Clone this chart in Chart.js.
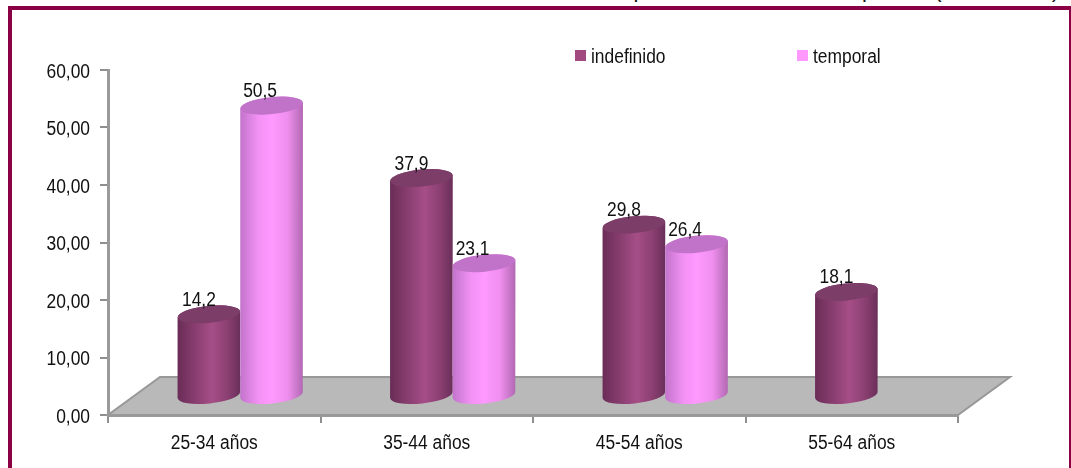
<!DOCTYPE html>
<html>
<head>
<meta charset="utf-8">
<style>
html, body { margin: 0; padding: 0; background: #fff; overflow: hidden; }
#wrap { position: relative; width: 1071px; height: 468px; overflow: hidden; }
#frame { position: absolute; left: 8px; top: 6px; right: 0; height: 470px; border: solid #8b0045; border-width: 4px 2px 0 4px; }
#note { position: absolute; right: 12px; top: -23px; font: 22px "Liberation Sans", sans-serif; white-space: nowrap; color: #111; }
canvas { position: absolute; left: 0; top: 0; }
</style>
</head>
<body>
<div id="wrap">
  <div id="note">personal asalariado empleado (25-64 años)</div>
  <div id="frame"></div>
  <canvas id="chart" width="1071" height="468"></canvas>
</div>
<script src="https://cdn.jsdelivr.net/npm/chart.js@4"></script>
<script>
const categories = ['25-34 años', '35-44 años', '45-54 años', '55-64 años'];
const indefinido = [14.2, 37.9, 29.8, 18.1];
const temporal = [50.5, 23.1, 26.4, null];
const yTicks = [0, 10, 20, 30, 40, 50, 60];

const FONT = '"Liberation Sans", sans-serif';
const FONT_SIZE = 20;
const SQUEEZE = 0.87;
const DEPTH_X = 26;
const DEPTH_Y = -19;
const RY = 8.5;
const TILT = -0.1;

const styles = [
    { stops: [[0, '#6a2c57'], [0.3, '#8a3f71'], [0.55, '#a64e87'], [0.8, '#8a3f71'], [1, '#6a2f5a']], top: '#7c3d68', key: '#a04a80', labelShift: -10 },
    { stops: [[0, '#c274cb'], [0.3, '#f492f6'], [0.5, '#ff99ff'], [0.75, '#f08ff0'], [1, '#b268b2']], top: '#c172c9', key: '#ff99ff', labelShift: -11.5 },
];

function drawCylinder(ctx, bar, style) {
    const x = bar.x + DEPTH_X;
    const yTop = bar.y + DEPTH_Y;
    const yBase = bar.base + DEPTH_Y;
    const half = bar.width / 2;
    const dy = half * Math.sin(TILT);
    const grad = ctx.createLinearGradient(x - half, 0, x + half, 0);
    style.stops.forEach(([at, colour]) => grad.addColorStop(at, colour));

    ctx.beginPath();
    ctx.moveTo(x - half, yTop - dy);
    ctx.lineTo(x - half, yBase - dy);
    ctx.ellipse(x, yBase, half, RY, TILT, Math.PI, 0, true);
    ctx.lineTo(x + half, yTop + dy);
    ctx.ellipse(x, yTop, half, RY, TILT, 0, Math.PI, true);
    ctx.closePath();
    ctx.fillStyle = grad;
    ctx.fill();

    ctx.beginPath();
    ctx.ellipse(x, yTop, half, RY, TILT, 0, Math.PI * 2);
    ctx.fillStyle = style.top;
    ctx.fill();
}

const cylinders = {
    id: 'cylinders',
    beforeDatasetsDraw(chart) {
        const { ctx, chartArea: a } = chart;
        const bx = 52;
        const by = -38;
        ctx.save();
        ctx.beginPath();
        ctx.moveTo(a.left, a.bottom);
        ctx.lineTo(a.right, a.bottom);
        ctx.lineTo(a.right + bx, a.bottom + by);
        ctx.lineTo(a.left + bx, a.bottom + by);
        ctx.closePath();
        ctx.fillStyle = '#b9b9b9';
        ctx.fill();
        ctx.strokeStyle = '#989898';
        ctx.lineWidth = 2;
        ctx.stroke();
        ctx.restore();
    },
    afterDatasetsDraw(chart) {
        const { ctx } = chart;
        ctx.save();
        // cylinders are drawn category by category, left bar first
        categories.forEach((_, i) => {
            chart.data.datasets.forEach((ds, d) => {
                if (ds.data[i] == null) return;
                drawCylinder(ctx, chart.getDatasetMeta(d).data[i], styles[d]);
            });
        });
        ctx.font = FONT_SIZE + 'px ' + FONT;
        ctx.fillStyle = '#111';
        ctx.textAlign = 'center';
        ctx.textBaseline = 'middle';
        chart.data.datasets.forEach((ds, d) => {
            chart.getDatasetMeta(d).data.forEach((bar, i) => {
                if (ds.data[i] == null) return;
                ctx.fillText(ds.data[i].toFixed(1).replace('.', ','), bar.x + DEPTH_X + styles[d].labelShift, bar.y + DEPTH_Y - 16);
            });
        });
        // legend
        const keyX = [575, 797];
        chart.data.datasets.forEach((ds, d) => {
            ctx.fillStyle = styles[d].key;
            ctx.fillRect(keyX[d], 50, 11, 11);
            ctx.fillStyle = '#111';
            ctx.textAlign = 'left';
            ctx.fillText(ds.label, keyX[d] + 16, 55);
        });
        ctx.restore();
    },
};

const canvas = document.getElementById('chart');
const context = canvas.getContext('2d');

// the original uses a narrow face, none is installed, so squeeze the text
const plainFillText = context.fillText;
context.fillText = function (text, x, y) {
    this.save();
    this.translate(x, y + 2);
    this.scale(SQUEEZE, 1);
    plainFillText.call(this, text, 0, 0);
    this.restore();
};

new Chart(context, {
    type: 'bar',
    data: {
        labels: categories,
        datasets: [
            { label: 'indefinido', data: indefinido, backgroundColor: 'transparent' },
            { label: 'temporal', data: temporal, backgroundColor: 'transparent' },
        ],
    },
    options: {
        responsive: false,
        animation: false,
        devicePixelRatio: 1,
        layout: { padding: { top: 70, right: 113, left: 0, bottom: 0 } },
        categoryPercentage: 0.59,
        barPercentage: 1,
        plugins: { legend: { display: false }, tooltip: { enabled: false } },
        scales: {
            x: {
                grid: { drawOnChartArea: false, color: '#8f8f8f', tickLength: 8, lineWidth: 2 },
                border: { color: '#9a9a9a', width: 3 },
                ticks: { color: '#111', font: { family: FONT, size: FONT_SIZE }, padding: 6, maxRotation: 0 },
                afterFit(scale) { scale.height = 53; },
            },
            y: {
                min: 0,
                max: 60,
                afterBuildTicks(scale) { scale.ticks = yTicks.map((value) => ({ value })); },
                grid: { drawOnChartArea: false, color: '#8f8f8f', tickLength: 8, lineWidth: 2 },
                border: { color: '#9a9a9a', width: 3 },
                ticks: {
                    color: '#111',
                    font: { family: FONT, size: FONT_SIZE },
                    padding: 10,
                    callback: (v) => v.toFixed(2).replace('.', ','),
                },
                afterFit(scale) { scale.width = 108; },
            },
        },
    },
    plugins: [cylinders],
});
</script>
</body>
</html>
